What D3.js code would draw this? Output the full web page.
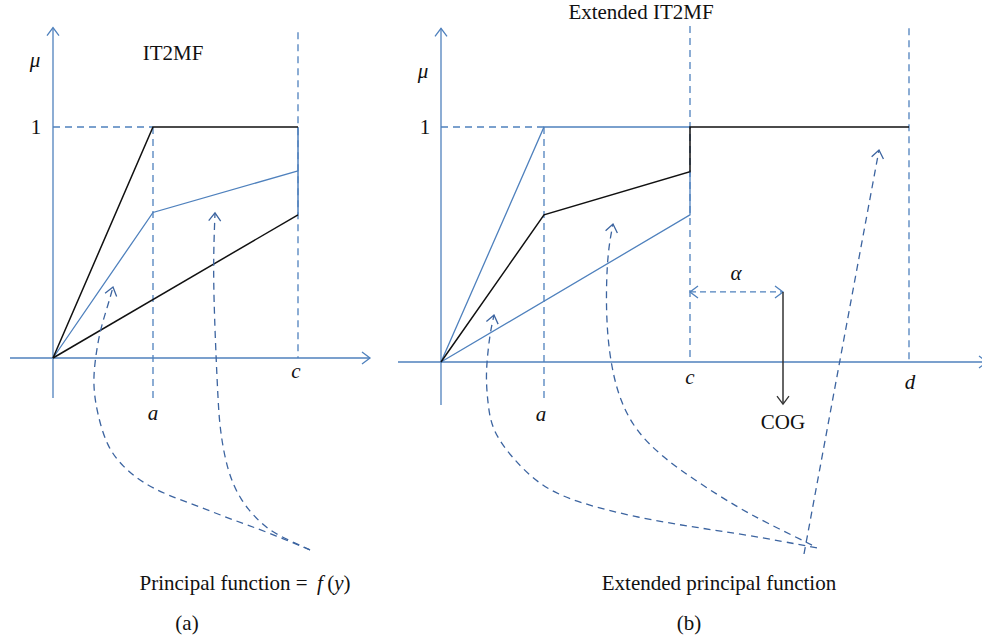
<!DOCTYPE html>
<html lang="en">
<head>
  <meta charset="UTF-8">
  <title>IT2MF and extended IT2MF</title>
  <style>
    body { margin: 0; background: #fff; }
    text { font-family: "Liberation Serif", "Times New Roman", serif; fill: #111; }
    .it { font-style: italic; }
  </style>
</head>
<body>
<script src="https://cdn.jsdelivr.net/npm/d3@7"></script>
<script>
  var W = 982, H = 639;
  var blue = "#4f81bd", darkBlue = "#3c64a0", black = "#111", grey = "#333";

  // ---- panel (a) data: x in units (a = 1), y = membership mu ----
  var aPos = 1.00, cPos = 2.45;
  var leftUpper = [[0, 0], [1.00, 1], [2.45, 1]];
  var leftLower = [[0, 0], [2.45, 0.62]];
  var leftRight = [[2.45, 1], [2.45, 0.62]];
  var leftPrincipal = [[0, 0], [1.00, 0.63], [2.45, 0.81]];
  // dashed curves (tip first)
  var leftCurve1 = [[0.60, 0.307], [0.55, 0.229], [0.47, 0.121], [0.42, -0.009], [0.40, -0.117],
    [0.44, -0.238], [0.54, -0.385], [0.70, -0.472], [0.90, -0.541], [1.14, -0.593],
    [1.47, -0.645], [1.80, -0.701], [2.14, -0.753], [2.57, -0.831]];
  var leftCurve2 = [[1.62, 0.628], [1.60, 0.394], [1.62, 0.108], [1.65, -0.182], [1.67, -0.312],
    [1.74, -0.485], [1.87, -0.615], [2.07, -0.714], [2.24, -0.766], [2.47, -0.810], [2.57, -0.831]];

  // ---- panel (b) data ----
  var aPosR = 1.03, cPosR = 2.49, dPosR = 4.68;
  var rightUpperBlue = [[0, 0], [1.03, 1], [2.49, 1]];
  var rightLowerBlue = [[0, 0], [2.49, 0.626], [2.49, 0.81]];
  var rightExtended = [[0, 0], [1.03, 0.626], [2.49, 0.81], [2.49, 1], [4.68, 1]];
  var rightCurveA = [[0.53, 0.200], [0.49, 0.123], [0.46, 0.009], [0.45, -0.077], [0.47, -0.183],
    [0.51, -0.289], [0.70, -0.404], [1.00, -0.532], [1.38, -0.600], [1.94, -0.660],
    [2.51, -0.702], [3.07, -0.736], [3.76, -0.791]];
  var rightCurveB = [[1.72, 0.587], [1.67, 0.477], [1.65, 0.306], [1.66, 0.123], [1.71, -0.034],
    [1.79, -0.162], [1.94, -0.289], [2.21, -0.404], [2.58, -0.515], [2.96, -0.617],
    [3.26, -0.685], [3.71, -0.779]];
  var rightLineC = [[4.38, 0.902], [3.63, -0.817]];
  var alphaArrow = [[2.49, 0.298], [3.42, 0.298]];
  var cogArrow = [[3.42, 0.298], [3.42, -0.179]];

  var svg = d3.select("body").append("svg")
    .attr("width", W).attr("height", H);

  // chevron markers
  var defs = svg.append("defs");
  function chevron(id, color, s) {
    defs.append("marker")
      .attr("id", id)
      .attr("viewBox", "-12 -12 24 24")
      .attr("markerWidth", 24).attr("markerHeight", 24)
      .attr("markerUnits", "userSpaceOnUse")
      .attr("refX", 0).attr("refY", 0)
      .attr("orient", "auto-start-reverse")
      .append("path")
      .attr("d", "M" + (-s) + "," + (-s * 0.75) + "L0,0L" + (-s) + "," + (s * 0.75))
      .attr("fill", "none")
      .attr("stroke", color)
      .attr("stroke-width", 1.3);
  }
  chevron("arrBlue", blue, 8);
  chevron("arrDark", darkBlue, 8);
  chevron("arrGrey", grey, 8);

  function drawPanel(xs, ys) {
    var g = svg.append("g");
    var line = d3.line().x(function(d) { return xs(d[0]); }).y(function(d) { return ys(d[1]); });
    var curve = d3.line().x(function(d) { return xs(d[0]); }).y(function(d) { return ys(d[1]); })
      .curve(d3.curveBasis);
    return {
      g: g,
      seg: function(pts, color, w, dash, mEnd, mStart) {
        var p = g.append("path").datum(pts)
          .attr("d", line).attr("fill", "none")
          .attr("stroke", color).attr("stroke-width", w);
        if (dash) p.attr("stroke-dasharray", dash);
        if (mEnd) p.attr("marker-end", "url(#" + mEnd + ")");
        if (mStart) p.attr("marker-start", "url(#" + mStart + ")");
        return p;
      },
      curve: function(pts) {
        // draw from the tail to the tip so the arrow sits at the tip
        g.append("path").datum(pts.slice().reverse())
          .attr("d", curve).attr("fill", "none")
          .attr("stroke", darkBlue).attr("stroke-width", 1.3)
          .attr("stroke-dasharray", "7,5")
          .attr("marker-end", "url(#arrDark)");
      },
      text: function(x, y, str, cls, size) {
        return g.append("text")
          .attr("x", xs(x)).attr("y", ys(y))
          .attr("text-anchor", "middle")
          .attr("dominant-baseline", "central")
          .attr("class", cls || null)
          .style("font-size", (size || 21) + "px")
          .text(str);
      }
    };
  }

  // ---------------- panel (a) ----------------
  var xL = d3.scaleLinear().domain([0, 1]).range([53, 153]);
  var yL = d3.scaleLinear().domain([0, 1]).range([358, 127]);
  var L = drawPanel(xL, yL);

  L.seg([[0, -0.173], [0, 1.43]], blue, 1.3, null, "arrBlue");
  L.seg([[-0.43, 0], [3.17, 0]], blue, 1.3, null, "arrBlue");
  L.seg([[0, 1], [aPos, 1]], blue, 1.3, "7,5");
  L.seg([[aPos, 1], [aPos, -0.18]], blue, 1.3, "7,5");
  L.seg([[cPos, 1.41], [cPos, 0]], blue, 1.3, "7,5");

  L.seg(leftPrincipal, blue, 1.3);
  L.seg(leftRight, blue, 1.5);
  L.seg(leftUpper, black, 1.5);
  L.seg(leftLower, black, 1.5);
  L.curve(leftCurve1);
  L.curve(leftCurve2);

  L.text(-0.18, 1.29, "\u03bc", "it");
  L.text(-0.17, 1, "1");
  L.text(1.20, 1.32, "IT2MF");
  L.text(cPos - 0.02, -0.055, "c", "it");
  L.text(aPos, -0.24, "a", "it");

  var pf = L.g.append("text")
    .attr("x", xL(1.92)).attr("y", 583)
    .attr("text-anchor", "middle").attr("dominant-baseline", "central")
    .style("font-size", "21px");
  pf.append("tspan").text("Principal function =\u2009 ");
  pf.append("tspan").attr("class", "it").text("f");
  pf.append("tspan").text("\u2009(");
  pf.append("tspan").attr("class", "it").text("y");
  pf.append("tspan").text(")");
  L.g.append("text").attr("x", xL(1.34)).attr("y", 623)
    .attr("text-anchor", "middle").attr("dominant-baseline", "central")
    .style("font-size", "21px").text("(a)");

  // ---------------- panel (b) ----------------
  var xR = d3.scaleLinear().domain([0, 1]).range([441, 541]);
  var yR = d3.scaleLinear().domain([0, 1]).range([362, 127]);
  var R = drawPanel(xR, yR);

  R.seg([[0, -0.183], [0, 1.42]], blue, 1.3, null, "arrBlue");
  R.seg([[-0.43, 0], [5.46, 0]], blue, 1.3, null, "arrBlue");
  R.seg([[0, 1], [aPosR, 1]], blue, 1.3, "7,5");
  R.seg([[aPosR, 1], [aPosR, -0.17]], blue, 1.3, "7,5");
  R.seg([[cPosR, 1.43], [cPosR, 0]], blue, 1.3, "7,5");
  R.seg([[dPosR, 1.42], [dPosR, 0]], blue, 1.3, "7,5");

  R.seg(rightUpperBlue, blue, 1.3);
  R.seg(rightLowerBlue, blue, 1.3);
  R.seg(rightExtended, black, 1.5);

  R.seg(alphaArrow, blue, 1.3, "6,4", "arrBlue", "arrBlue");
  R.seg(cogArrow, grey, 1.5, null, "arrGrey");

  R.curve(rightCurveA);
  R.curve(rightCurveB);
  R.curve(rightLineC);

  R.text(-0.18, 1.24, "\u03bc", "it");
  R.text(-0.16, 1, "1");
  R.text(2.0, 1.49, "Extended IT2MF");
  R.text(cPosR, -0.065, "c", "it");
  R.text(dPosR + 0.01, -0.085, "d", "it");
  R.text(aPosR - 0.03, -0.22, "a", "it");
  R.text(2.95, 0.38, "\u03b1", "it");
  R.text(3.42, -0.255, "COG");
  R.text(2.78, -0.94, "Extended principal function");
  R.text(2.48, -1.11, "(b)");
</script>
</body>
</html>
